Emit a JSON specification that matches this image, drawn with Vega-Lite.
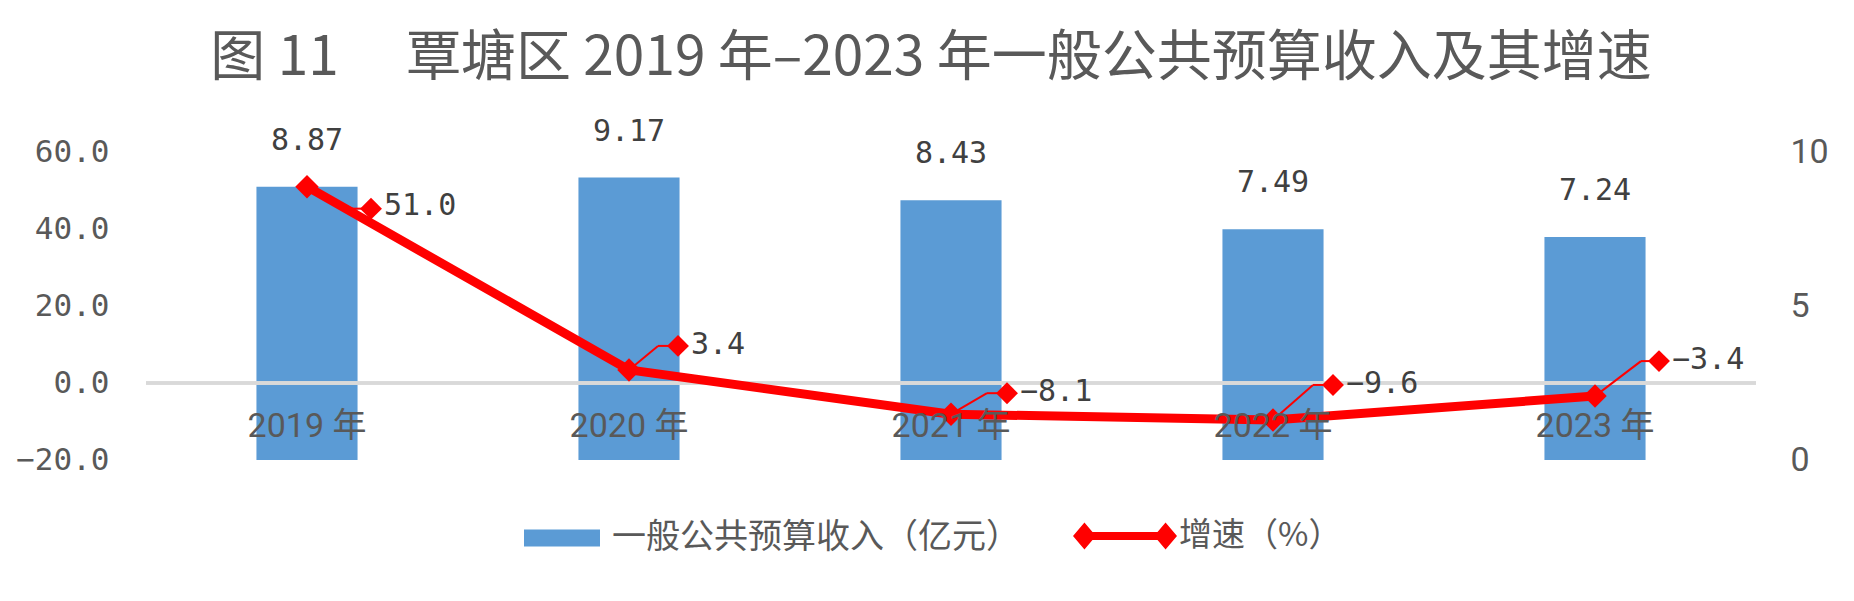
{
  "$schema": "https://vega.github.io/schema/vega-lite/v6.json",
  "width": 1610,
  "height": 308,
  "autosize": {"type": "none"},
  "padding": {"left": 146, "top": 152, "right": 98, "bottom": 141},
  "background": "white",
  "title": {
    "text": "图\u00a011\u3000\u00a0覃塘区\u00a02019\u00a0年–2023\u00a0年一般公共预算收入及其增速",
    "anchor": "middle",
    "frame": "group",
    "dx": -20,
    "offset": 30,
    "font": "Noto Sans CJK SC",
    "fontSize": 55,
    "fontWeight": "normal",
    "color": "#595959"
  },
  "data": {
    "values": [
      {"year": "2019", "revenue": 8.87, "growth": 51.0},
      {"year": "2020", "revenue": 9.17, "growth": 3.4},
      {"year": "2021", "revenue": 8.43, "growth": -8.1},
      {"year": "2022", "revenue": 7.49, "growth": -9.6},
      {"year": "2023", "revenue": 7.24, "growth": -3.4}
    ]
  },
  "layer": [
    {
      "encoding": {
        "x": {
          "field": "year", "type": "nominal",
          "scale": {"type": "band", "paddingInner": 0.686, "paddingOuter": 0.343},
          "axis": {
            "orient": "bottom", "offset": -77, "labelExpr": "datum.label + ' 年'",
            "labelFont": "Liberation Sans Narrow, Roboto, Noto Sans CJK SC",
            "labelFontSize": 34, "labelColor": "#595959", "labelPadding": 26,
            "ticks": false, "domain": false, "grid": false, "title": null,
            "zindex": 1, "labelAngle": 0
          }
        },
        "y": {
          "field": "revenue", "type": "quantitative",
          "scale": {"domain": [0, 10]},
          "axis": {
            "orient": "right", "values": [0, 5, 10], "format": "d",
            "labelFont": "Liberation Sans Narrow, Roboto, sans-serif",
            "labelFontSize": 34, "labelColor": "#595959", "labelPadding": 34,
            "ticks": false, "domain": false, "grid": false, "title": null
          }
        }
      },
      "layer": [
        {
          "mark": {"type": "bar", "color": "#5b9bd5"},
          "encoding": {
            "fill": {
              "datum": "一般公共预算收入（亿元）",
              "scale": {"range": ["#5b9bd5"]},
              "legend": {
                "orient": "none", "legendX": 378, "legendY": 348, "title": null,
                "symbolType": "M-1,-0.224H1V0.224H-1Z", "symbolSize": 5776,
                "symbolStrokeWidth": 0, "labelOffset": 12, "labelLimit": 1000,
                "labelFont": "Noto Sans CJK SC", "labelFontSize": 34, "labelColor": "#595959"
              }
            }
          }
        },
        {
          "mark": {"type": "text", "dy": -46, "baseline": "middle", "align": "center", "font": "DejaVu Sans Mono", "fontSize": 30, "color": "#404040"},
          "encoding": {
            "text": {"field": "revenue", "type": "quantitative", "format": ".2f"}
          }
        }
      ]
    },
    {
      "mark": {"type": "rule", "color": "#d9d9d9", "strokeWidth": 3},
      "encoding": {
        "y": {"datum": 0, "type": "quantitative", "scale": {"domain": [-20, 60]}, "axis": null}
      }
    },
    {
      "encoding": {
        "x": {
          "field": "year", "type": "nominal",
          "scale": {"type": "band", "paddingInner": 0.686, "paddingOuter": 0.343},
          "axis": {
            "orient": "bottom", "offset": -77, "labelExpr": "datum.label + ' 年'",
            "labelFont": "Liberation Sans Narrow, Roboto, Noto Sans CJK SC",
            "labelFontSize": 34, "labelColor": "#595959", "labelPadding": 26,
            "ticks": false, "domain": false, "grid": false, "title": null,
            "zindex": 1, "labelAngle": 0
          }
        },
        "y": {
          "field": "growth", "type": "quantitative",
          "scale": {"domain": [-20, 60]},
          "axis": {
            "orient": "left", "values": [-20, 0, 20, 40, 60], "format": ".1f",
            "labelFont": "DejaVu Sans Mono", "labelFontSize": 31, "labelColor": "#595959",
            "labelPadding": 37, "ticks": false, "domain": false, "grid": false, "title": null
          }
        }
      },
      "layer": [
        {
          "mark": {
            "type": "rule", "color": "#ff0000", "strokeWidth": 2,
            "x2Offset": {"expr": "datum.year==='2019'?45:datum.year==='2020'?29:datum.year==='2021'?36:datum.year==='2022'?40:46"},
            "y2Offset": {"expr": "datum.year==='2019'?22:datum.year==='2020'?-24:datum.year==='2021'?-21:-35"}
          },
          "encoding": {
            "x": {"field": "year", "type": "nominal", "bandPosition": 0.5},
            "x2": {"field": "year", "bandPosition": 0.5},
            "y2": {"field": "growth"}
          }
        },
        {
          "mark": {
            "type": "rule", "color": "#ff0000", "strokeWidth": 2,
            "xOffset": {"expr": "datum.year==='2019'?45:datum.year==='2020'?29:datum.year==='2021'?36:datum.year==='2022'?40:46"},
            "yOffset": {"expr": "datum.year==='2019'?22:datum.year==='2020'?-24:datum.year==='2021'?-21:-35"},
            "x2Offset": {"expr": "datum.year==='2019'?64:datum.year==='2020'?49:datum.year==='2021'?56:datum.year==='2022'?60:64"},
            "y2Offset": {"expr": "datum.year==='2019'?22:datum.year==='2020'?-24:datum.year==='2021'?-21:-35"}
          },
          "encoding": {
            "x": {"field": "year", "type": "nominal", "bandPosition": 0.5},
            "x2": {"field": "year", "bandPosition": 0.5},
            "y2": {"field": "growth"}
          }
        },
        {
          "mark": {"type": "line", "strokeWidth": 9, "strokeJoin": "round"},
          "encoding": {
            "stroke": {
              "datum": "增速（%）",
              "scale": {"range": ["#ff0000"]},
              "legend": {
                "orient": "none", "legendX": 927, "legendY": 332, "title": null,
                "symbolType": "M-1,0L-0.78,-0.26L-0.56,0L-0.78,0.26Z M0.56,0L0.78,-0.26L1,0L0.78,0.26Z M-0.78,-0.077H0.78V0.077H-0.78Z",
                "symbolSize": 10816, "symbolFillColor": "#ff0000", "symbolStrokeColor": "transparent",
                "symbolStrokeWidth": 0, "labelOffset": 2, "labelLimit": 1000,
                "labelFont": "Noto Sans CJK SC", "labelFontSize": 33, "labelColor": "#595959",
                "encode": {"symbols": {"update": {"fill": {"value": "#ff0000"}, "stroke": {"value": "transparent"}, "strokeWidth": {"value": 0}}}}
              }
            }
          }
        },
        {
          "mark": {"type": "point", "shape": "diamond", "filled": true, "color": "#ff0000", "opacity": 1, "size": 550}
        },
        {
          "mark": {
            "type": "point", "shape": "diamond", "filled": true, "color": "#ff0000", "opacity": 1, "size": 480,
            "xOffset": {"expr": "datum.year==='2019'?64:datum.year==='2020'?49:datum.year==='2021'?56:datum.year==='2022'?60:64"},
            "yOffset": {"expr": "datum.year==='2019'?22:datum.year==='2020'?-24:datum.year==='2021'?-21:-35"}
          }
        },
        {
          "mark": {
            "type": "text", "align": "left", "baseline": "middle",
            "font": "DejaVu Sans Mono", "fontSize": 30, "color": "#404040",
            "dx": {"expr": "datum.year==='2019'?77:datum.year==='2020'?62:datum.year==='2021'?69:datum.year==='2022'?73:77"},
            "dy": {"expr": "datum.year==='2019'?19:datum.year==='2020'?-25:datum.year==='2021'?-22:-36"}
          },
          "encoding": {
            "text": {"field": "growth", "type": "quantitative", "format": ".1f"}
          }
        }
      ]
    }
  ],
  "resolve": {"scale": {"y": "independent"}},
  "config": {
    "view": {"stroke": null},
    "font": "Noto Sans CJK SC"
  }
}
